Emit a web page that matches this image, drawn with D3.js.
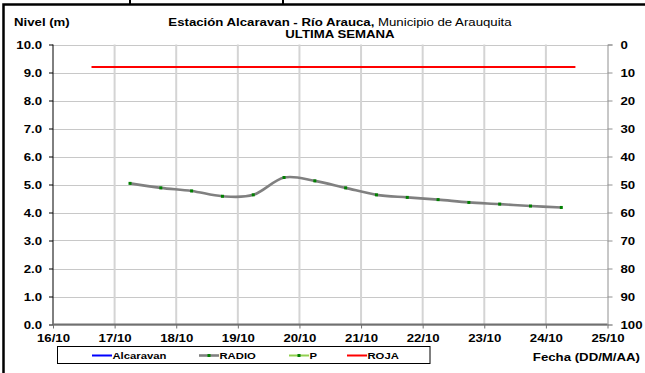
<!DOCTYPE html>
<html>
<head>
<meta charset="utf-8">
<script src="https://cdn.jsdelivr.net/npm/d3@7"></script>
<style>
  html, body { margin: 0; padding: 0; background: #fff; }
  svg { display: block; font-family: "Liberation Sans", Arial, sans-serif; }
</style>
</head>
<body>
<svg id="chart" width="645" height="373"></svg>
<script>
// Nivel del río (m) — lecturas cada 12 horas
const radioDates = [
  "2024-10-17T06:00", "2024-10-17T18:00", "2024-10-18T06:00", "2024-10-18T18:00",
  "2024-10-19T06:00", "2024-10-19T18:00", "2024-10-20T06:00", "2024-10-20T18:00",
  "2024-10-21T06:00", "2024-10-21T18:00", "2024-10-22T06:00", "2024-10-22T18:00",
  "2024-10-23T06:00", "2024-10-23T18:00", "2024-10-24T06:00"
];
const radioValues = [5.04, 4.88, 4.77, 4.58, 4.63, 5.25, 5.13, 4.88, 4.63, 4.54, 4.46, 4.36, 4.30, 4.23, 4.18];

// Umbral de alerta roja
const rojaDates = ["2024-10-16T15:00", "2024-10-24T11:30"];
const rojaValues = [9.2, 9.2];

const xTickDates = ["2024-10-16", "2024-10-17", "2024-10-18", "2024-10-19", "2024-10-20",
                    "2024-10-21", "2024-10-22", "2024-10-23", "2024-10-24", "2024-10-25"];
const yLeftTicks = [0, 1, 2, 3, 4, 5, 6, 7, 8, 9, 10];
const yRightTicks = [0, 10, 20, 30, 40, 50, 60, 70, 80, 90, 100];

const legendNames = ["Alcaravan", "RADIO", "P", "ROJA"];
const legendColors = ["#0000ff", "#808080", "#92d050", "#ff0000"];

const parse = d3.timeParse("%Y-%m-%dT%H:%M");
const parseDay = d3.timeParse("%Y-%m-%d");

const FONT = "Liberation Sans, Arial, sans-serif";
const SX = 1.15; // ensanchamiento horizontal del texto

// Ensancha un texto horizontalmente alrededor de su punto de anclaje
function widen(sel, sx) {
  sel.each(function () {
    const t = d3.select(this);
    const tx = +t.attr("x") || 0, ty = +t.attr("y") || 0;
    t.attr("transform", `translate(${tx},${ty}) scale(${sx},1) translate(${-tx},${-ty})`);
  });
}

const svg = d3.select("#chart");
const plot = { left: 53, right: 607.5, top: 44.5, bottom: 324.5 };

const x = d3.scaleTime()
  .domain([parseDay(xTickDates[0]), parseDay(xTickDates[xTickDates.length - 1])])
  .range([plot.left, plot.right]);
const y = d3.scaleLinear().domain([0, 10]).range([plot.bottom, plot.top]);
const yR = d3.scaleLinear().domain([0, 100]).range([plot.top, plot.bottom]);

// Marco exterior
svg.append("path")
  .attr("d", "M3.5,373 L3.5,4.5 L645,4.5")
  .attr("fill", "none").attr("stroke", "#000").attr("stroke-width", 2.5);
[130, 283].forEach(px => svg.append("line")
  .attr("x1", px).attr("x2", px).attr("y1", 0).attr("y2", 4)
  .attr("stroke", "#000").attr("stroke-width", 2));

// Rejilla
const grid = svg.append("g");
grid.selectAll("line.h").data(yLeftTicks).join("line")
  .attr("x1", plot.left).attr("x2", plot.right)
  .attr("y1", d => Math.round(y(d)) + 0.5).attr("y2", d => Math.round(y(d)) + 0.5)
  .attr("stroke", "#c8c8c8").attr("stroke-width", 1);
grid.selectAll("line.v").data(xTickDates.slice(1, -1)).join("line")
  .attr("x1", d => x(parseDay(d))).attr("x2", d => x(parseDay(d)))
  .attr("y1", plot.top).attr("y2", plot.bottom)
  .attr("stroke", "#d4d4d4").attr("stroke-width", 2);

// Eje derecho (invertido)
const axR = svg.append("g")
  .attr("transform", `translate(${plot.right},0)`)
  .call(d3.axisRight(yR).tickValues(yRightTicks).tickSize(5).tickPadding(8));
axR.select(".domain").attr("stroke", "#909090");
axR.selectAll(".tick line").attr("stroke", "#909090");
axR.selectAll("text").attr("font-size", 11.5).attr("font-weight", "bold")
  .attr("fill", "#000").attr("font-family", FONT).attr("x", 13).call(widen, SX);

// Eje izquierdo
const axL = svg.append("g")
  .attr("transform", `translate(${plot.left},0)`)
  .call(d3.axisLeft(y).tickValues(yLeftTicks).tickFormat(d3.format(".1f")).tickSize(4).tickPadding(7));
axL.select(".domain").attr("stroke", "#000").attr("d", `M0,${plot.top}V${plot.bottom}`);
axL.selectAll(".tick line").attr("stroke", "#000");
axL.selectAll("text").attr("font-size", 11.5).attr("font-weight", "bold")
  .attr("fill", "#000").attr("font-family", FONT).attr("x", -11).call(widen, SX);

// Eje inferior
const axB = svg.append("g")
  .attr("transform", `translate(0,${plot.bottom})`)
  .call(d3.axisBottom(x).tickValues(xTickDates.map(parseDay))
    .tickFormat(d3.timeFormat("%d/%m")).tickSize(4).tickPadding(5));
axB.select(".domain").attr("stroke", "#707070").attr("stroke-width", 2)
  .attr("d", `M${plot.left},0H${plot.right}`);
axB.selectAll(".tick line").attr("stroke", "#707070");
axB.selectAll("text").attr("font-size", 11.5).attr("font-weight", "bold")
  .attr("fill", "#000").attr("font-family", FONT).call(widen, SX);

// Línea roja
const rojaData = rojaDates.map((d, i) => ({ t: parse(d), v: rojaValues[i] }));
svg.append("path")
  .datum(rojaData)
  .attr("fill", "none").attr("stroke", "#ff0000").attr("stroke-width", 2)
  .attr("d", d3.line().x(d => x(d.t)).y(d => y(d.v)));

// Serie RADIO (línea suavizada)
const radioData = radioDates.map((d, i) => ({ t: parse(d), v: radioValues[i] }));
svg.append("path")
  .datum(radioData)
  .attr("fill", "none").attr("stroke", "#808080").attr("stroke-width", 2.6)
  .attr("d", d3.line().curve(d3.curveCatmullRom.alpha(0)).x(d => x(d.t)).y(d => y(d.v)));
svg.selectAll("rect.pt").data(radioData).join("rect")
  .attr("class", "pt")
  .attr("x", d => x(d.t) - 1.5).attr("y", d => y(d.v) - 1.5)
  .attr("width", 3).attr("height", 3).attr("fill", "#008000");

// Títulos
const title = svg.append("text").attr("x", 340).attr("y", 26)
  .attr("text-anchor", "middle").attr("font-size", 11.5);
title.append("tspan").attr("font-weight", "bold").text("Estación Alcaravan - Río Arauca,");
title.append("tspan").text(" Municipio de Arauquita");
title.call(widen, SX);
svg.append("text").attr("x", 340).attr("y", 38).attr("text-anchor", "middle")
  .attr("font-size", 11.5).attr("font-weight", "bold").text("ULTIMA SEMANA").call(widen, SX);
svg.append("text").attr("x", 14).attr("y", 26)
  .attr("font-size", 11.5).attr("font-weight", "bold").text("Nivel (m)").call(widen, SX);
svg.append("text").attr("x", 640).attr("y", 361).attr("text-anchor", "end")
  .attr("font-size", 11.5).attr("font-weight", "bold").text("Fecha (DD/M/AA)").call(widen, SX);

// Leyenda
const legend = svg.append("g");
legend.append("rect").attr("x", 57.5).attr("y", 346.5).attr("width", 372.5).attr("height", 17)
  .attr("fill", "#fff").attr("stroke", "#000").attr("stroke-width", 1);
const legendX = [92, 199, 289, 347];
legendNames.forEach((name, i) => {
  const gx = legendX[i];
  legend.append("line").attr("x1", gx).attr("x2", gx + 20).attr("y1", 355.5).attr("y2", 355.5)
    .attr("stroke", legendColors[i]).attr("stroke-width", i === 1 ? 2.6 : 2);
  if (name === "RADIO" || name === "P") {
    legend.append("rect").attr("x", gx + 8.5).attr("y", 354).attr("width", 3).attr("height", 3)
      .attr("fill", "#008000");
  }
  legend.append("text").attr("x", gx + 20.5).attr("y", 359.5)
    .attr("font-size", 9.8).attr("font-weight", "bold").text(name).call(widen, 1.15);
});
</script>
</body>
</html>
